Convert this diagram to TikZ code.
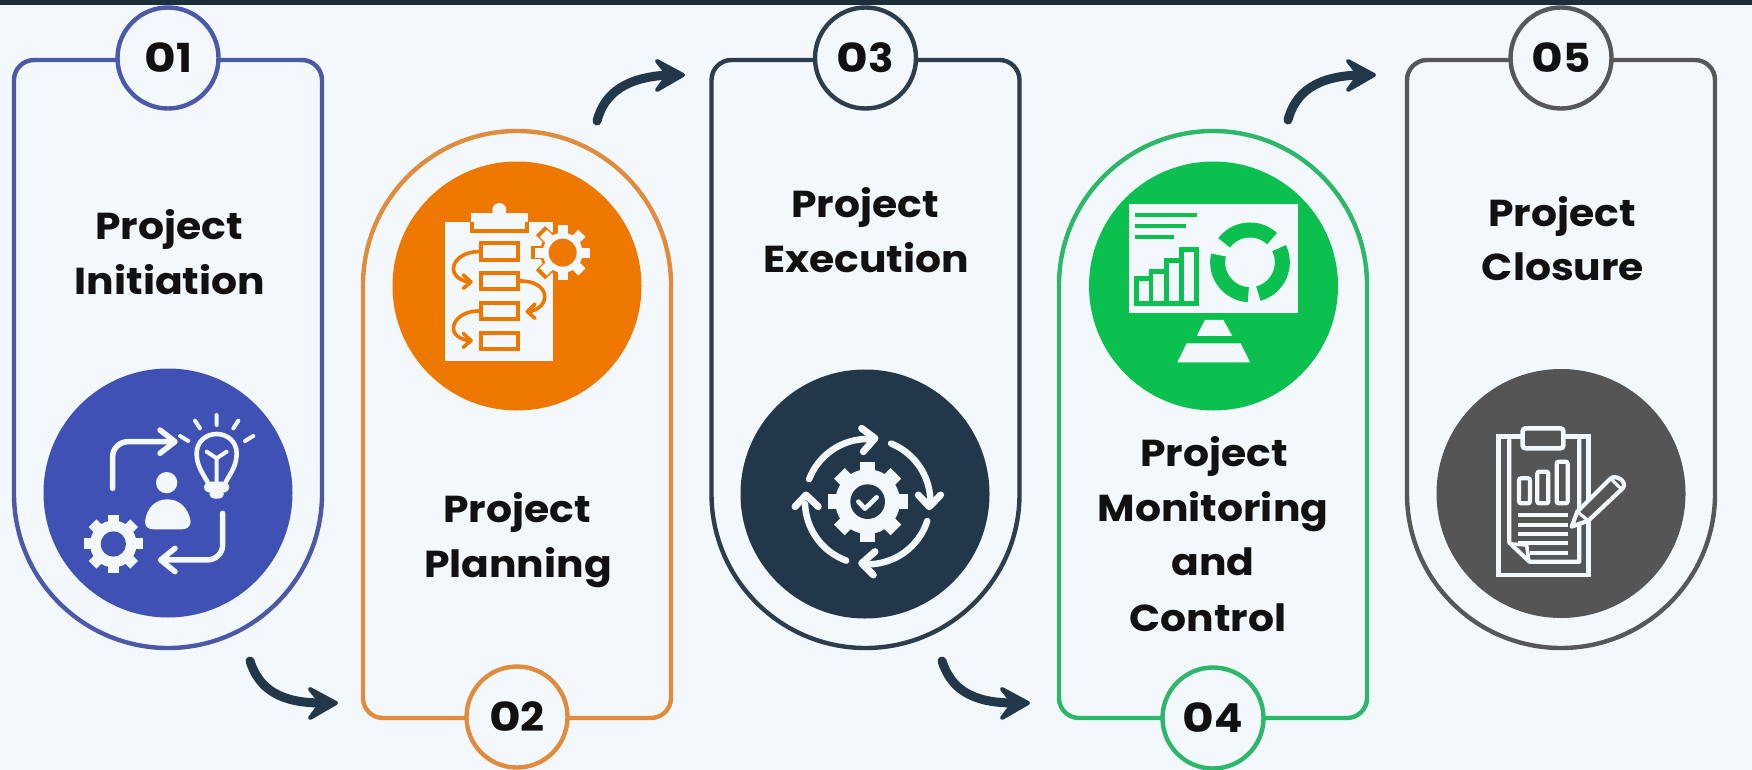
\documentclass[tikz,border=0pt]{standalone}
\usepackage{fontspec}
\setmainfont{Poppins}[BoldFont={* Bold},FakeStretch=1.09]
\newfontfamily\zerofont{Poppins}[BoldFont={* Bold},FakeStretch=1.22]
\newfontfamily\digitfont{Poppins}[BoldFont={* Bold},FakeStretch=1.05]
\usetikzlibrary{calc}
\definecolor{bgc}{HTML}{F3F8FD}
\definecolor{barc}{HTML}{1C2E3A}
\definecolor{bluef}{HTML}{3F51B5}
\definecolor{blues}{HTML}{4C58A8}
\definecolor{orangef}{HTML}{EE7700}
\definecolor{oranges}{HTML}{E08C3C}
\definecolor{darkf}{HTML}{22384A}
\definecolor{darks}{HTML}{2C3E4E}
\definecolor{greenf}{HTML}{0CC04F}
\definecolor{greens}{HTML}{2DB768}
\definecolor{greyf}{HTML}{555555}
\definecolor{greys}{HTML}{555759}
\definecolor{ink}{HTML}{111111}
\tikzset{
  panelline/.style={line width=4.4pt,line join=round},
  badge/.style={circle,minimum size=101pt,inner sep=0pt,line width=4.4pt,fill=bgc,text=ink,font=\fontsize{40}{40}\selectfont\bfseries},
  disc/.style={circle,minimum size=249pt,inner sep=0pt},
  label/.style={anchor=base,inner sep=0pt,text=ink,font=\fontsize{37.5}{37.5}\selectfont\bfseries},
  flowarrow/.style={draw=darkf,line width=9pt,line cap=round,line join=round},
  flowhead/.style={draw=darkf,fill=darkf,line width=4pt,line join=round},
  wl/.style={draw=bgc,line cap=round,line join=round},
}
\newcommand\zz{{\zerofont 0}}
% centre x, colour : square top, round bottom
\newcommand\panelA[2]{\draw[panelline,draw=#2]
  ({#1-154},80) .. controls ({#1-154},69) and ({#1-145},60) .. ({#1-134},60) -- ({#1+134},60)
  .. controls ({#1+145},60) and ({#1+154},69) .. ({#1+154},80) -- ({#1+154},494)
  .. controls ({#1+154},579) and ({#1+85},648) .. (#1,648)
  .. controls ({#1-85},648) and ({#1-154},579) .. ({#1-154},494) -- cycle;}
% centre x, colour : round top, square bottom
\newcommand\panelB[2]{\draw[panelline,draw=#2]
  ({#1-154},285) .. controls ({#1-154},200) and ({#1-85},131) .. (#1,131)
  .. controls ({#1+85},131) and ({#1+154},200) .. ({#1+154},285) -- ({#1+154},698)
  .. controls ({#1+154},709) and ({#1+145},718) .. ({#1+134},718) -- ({#1-134},718)
  .. controls ({#1-145},718) and ({#1-154},709) .. ({#1-154},698) -- cycle;}
% cx, cy, body r, tooth r, tooth width, rotation, colour
\newcommand\gearshape[7]{%
  \fill[#7] (#1,#2) circle[radius=#3];
  \foreach \ga in {0,45,...,315}{%
    \draw[#7,line width=#5pt] ({#1+(#3-6)*cos(\ga+#6)},{#2+(#3-6)*sin(\ga+#6)}) -- ({#1+#4*cos(\ga+#6)},{#2+#4*sin(\ga+#6)});
  }}
\newcommand\chev[4]{\draw[wl,line width=#4pt] #1 -- #2 -- #3;}
\newcommand\zarc[5]{plot[domain=#4:#5,samples=30] ({#1+#3*cos(\x)},{#2-#3*sin(\x)})}
% arrow head at named coordinate
\newcommand\headat[1]{\draw[flowhead] ($(#1)+(-26,-14)$) -- (#1) -- ($(#1)+(-26,15)$) -- ($(#1)+(-15,0)$) -- cycle;}
\begin{document}
\begin{tikzpicture}[x=1pt,y=-1pt]
\useasboundingbox (0,0) rectangle (1752,770);
\fill[bgc] (0,0) rectangle (1752,770);

\panelA{168}{blues}
\panelB{517}{oranges}
\panelA{865.5}{darks}
\panelB{1213}{greens}
\panelA{1561}{greys}

\node[disc,fill=bluef] (d1) at (168,493) {};
\node[disc,fill=orangef] (d2) at (517,286) {};
\node[disc,fill=darkf] (d3) at (865,494) {};
\node[disc,fill=greenf] (d4) at (1213.5,286) {};
\node[disc,fill=greyf] (d5) at (1561,493.5) {};

\node[badge,draw=blues] (b1) at (168,58) {\zz{\digitfont 1}};
\node[badge,draw=oranges] (b2) at (517,717) {\zz{\digitfont 2}};
\node[badge,draw=darks] (b3) at (865.5,58) {\zz{\digitfont 3}};
\node[badge,draw=greens] (b4) at (1213,718) {\zz{\digitfont 4}};
\node[badge,draw=greys] (b5) at (1561,58) {\zz{\digitfont 5}};

\node[label] (t1a) at (169,239) {Project};
\node[label] (t1b) at (170,294) {Initiation};
\node[label] (t2a) at (517,522) {Project};
\node[label] (t2b) at (518,577) {Planning};
\node[label] (t3a) at (865,217) {Project};
\node[label] (t3b) at (866,272) {Execution};
\node[label] (t4a) at (1214,466) {Project};
\node[label] (t4b) at (1213,521) {Monitoring};
\node[label] (t4c) at (1213,575) {and};
\node[label] (t4d) at (1208,631) {Control};
\node[label] (t5a) at (1562,226) {Project};
\node[label] (t5b) at (1563,280) {Closure};

% connectors
\coordinate (a1s) at (250,661); \coordinate (a1e) at (336,703);
\coordinate (a2s) at (597,121); \coordinate (a2e) at (683,75);
\coordinate (a3s) at (942,661); \coordinate (a3e) at (1028,703);
\coordinate (a4s) at (1288,120); \coordinate (a4e) at (1374,75);
\draw[flowarrow] (a1s) .. controls ($(a1s)+(9,28)$) and ($(a1s)+(30,42)$) .. ($(a1e)+(-14,0)$);
\headat{a1e}
\draw[flowarrow] (a2s) .. controls ($(a2s)+(7,-27)$) and ($(a2s)+(28,-44)$) .. ($(a2e)+(-14,0)$);
\headat{a2e}
\draw[flowarrow] (a3s) .. controls ($(a3s)+(9,28)$) and ($(a3s)+(30,42)$) .. ($(a3e)+(-14,0)$);
\headat{a3e}
\draw[flowarrow] (a4s) .. controls ($(a4s)+(7,-27)$) and ($(a4s)+(28,-44)$) .. ($(a4e)+(-14,0)$);
\headat{a4e}

% icon 1
\begin{scope}[shift={(0,340)},x=0.3333pt,y=-0.3333pt]
  \draw[wl,line width=5.5pt] (338,445) -- (338,350) .. controls (338,325) and (358,305) .. (385,305) -- (515,305);
  \chev{(480,270)}{(525,305)}{(480,340)}{5.5}
  \draw[wl,line width=5.5pt] (668,520) -- (668,615) .. controls (668,640) and (648,660) .. (620,660) -- (490,660);
  \chev{(525,625)}{(482,660)}{(525,695)}{5.5}
  \fill[bgc] (500,428) circle[radius=32];
  \fill[bgc] (435,545) .. controls (440,500) and (470,478) .. (502,478) .. controls (535,478) and (565,500) .. (572,545)
     .. controls (572,560) and (560,568) .. (545,568) -- (460,568) .. controls (445,568) and (435,560) .. (435,545) -- cycle;
  \gearshape{340}{612}{70}{88}{11}{0}{bgc}
  \fill[bluef] (340,612) circle[radius=38];
  \draw[wl,line width=4.6pt] (622,425) .. controls (605,395) and (590,375) .. (590,340) .. controls (590,305) and (618,282) .. (650,282)
     .. controls (682,282) and (710,305) .. (710,340) .. controls (710,375) and (695,395) .. (678,425);
  \fill[bgc,rounded corners=6pt] (612,425) rectangle (688,458);
  \fill[bgc,rounded corners=5pt] (628,450) rectangle (672,476);
  \draw[wl,line width=4pt] (620,335) -- (650,355) -- (680,335) (650,355) -- (650,425);
  \draw[wl,line width=4pt] (540,288) -- (565,303) (585,242) -- (600,265) (650,225) -- (650,255) (715,242) -- (700,265) (760,288) -- (735,303);
\end{scope}

% icon 2
\begin{scope}[shift={(370,130)},x=0.3333pt,y=-0.3333pt]
  \fill[bgc] (225,275) rectangle (550,693);
  \draw[draw=orangef,fill=bgc,line width=3.8pt] (307,255) rectangle (470,303);
  \fill[bgc] (303,250) rectangle (474,275);
  \fill[bgc] (388,240) circle[radius=21];
  \gearshape{578}{368}{68}{94}{13}{0}{orangef}
  \gearshape{578}{368}{60}{82}{10}{0}{bgc}
  \fill[orangef] (578,368) circle[radius=42];
  \foreach \yy in {340,428,518,608}{
    \draw[orangef,fill=bgc,line width=4pt] (332,\yy) rectangle (445,{\yy+50});
  }
  \begin{scope}[every path/.style={draw=orangef,line width=3.6pt,line join=round,line cap=round}]
    \path (330,365) .. controls (250,362) and (215,440) .. (298,457);
    \path (280,435) -- (303,456) -- (280,475);
    \path (445,453) .. controls (545,450) and (545,535) .. (475,545);
    \path (495,522) -- (472,545) -- (495,565);
    \path (330,543) .. controls (250,540) and (215,620) .. (298,632);
    \path (280,610) -- (303,632) -- (280,652);
  \end{scope}
\end{scope}

% icon 3
\begin{scope}[shift={(720,350)},x=0.3333pt,y=-0.3333pt]
  \gearshape{443}{455}{97}{120}{15}{0}{bgc}
  \fill[darkf] (443,455) circle[radius=52];
  \draw[wl,line width=4.6pt] (415,455) -- (435,476) -- (470,442);
  \draw[wl,line width=6.5pt] \zarc{443}{455}{188}{159}{88};
  \chev{(425,235)}{(465,265)}{(430,305)}{7}
  \draw[wl,line width=6.5pt] \zarc{443}{455}{188}{68}{-2};
  \chev{(595,435)}{(628,470)}{(662,435)}{7}
  \draw[wl,line width=6.5pt] \zarc{443}{455}{188}{-18}{-92};
  \chev{(465,605)}{(425,640)}{(460,675)}{7}
  \draw[wl,line width=6.5pt] \zarc{443}{455}{188}{-110}{-178};
  \chev{(225,470)}{(258,435)}{(295,470)}{7}
\end{scope}

% icon 4
\begin{scope}[shift={(1070,130)},x=0.3333pt,y=-0.3333pt]
  \fill[bgc] (178,222) rectangle (685,550);
  \draw[greenf,line width=4.8pt] (195,255) -- (382,255) (195,288) -- (347,288) (195,321) -- (312,321);
  \begin{scope}[line width=4.4pt]
    \draw[greenf] (200,445) rectangle (243,520);
    \draw[greenf] (243,425) rectangle (290,520);
    \draw[greenf] (290,392) rectangle (335,520);
    \draw[greenf] (335,358) rectangle (380,520);
  \end{scope}
  \draw[greenf,line width=15pt] \zarc{540}{397}{97}{143}{47};
  \draw[greenf,line width=15pt] \zarc{540}{397}{97}{26}{-75};
  \draw[greenf,line width=15pt] \zarc{540}{397}{97}{167}{267};
  \fill[bgc] (405,570) -- (460,570) -- (487,618) -- (380,618) -- cycle;
  \fill[bgc] (350,640) -- (512,640) -- (540,697) -- (322,697) -- cycle;
\end{scope}

% icon 5
\begin{scope}[shift={(1420,360)},x=0.3333pt,y=-0.3333pt]
  \draw[draw=bgc,line width=4.6pt] (235,230) rectangle (505,645);
  \draw[wl,line width=4.2pt] (268,240) -- (268,548) -- (328,605) -- (478,605) -- (478,240);
  \draw[wl,line width=3.6pt] (275,552) -- (320,555) -- (326,600);
  \draw[draw=bgc,fill=greyf,line width=4.6pt,rounded corners=3pt] (308,205) rectangle (430,265);
  \draw[draw=bgc,line width=4.2pt,rounded corners=2pt] (297,355) rectangle (330,430);
  \draw[draw=bgc,line width=4.2pt,rounded corners=2pt] (352,335) rectangle (385,430);
  \draw[draw=bgc,line width=4.2pt,rounded corners=2pt] (410,305) rectangle (443,430);
  \draw[draw=bgc,line width=4pt] (295,465) -- (445,465) (295,495) -- (445,495) (295,522) -- (445,522) (295,550) -- (445,550) (330,578) -- (445,578);
  \draw[wl,fill=greyf,line width=4.2pt] (455,500) -- (472,455) -- (570,357) .. controls (585,340) and (625,365) .. (608,385) -- (505,482) -- cycle;
  \draw[wl,line width=3.2pt] (472,455) -- (505,482);
  \draw[wl,line width=3.2pt] (573,357) -- (605,388);
\end{scope}

\fill[barc] (0,0) rectangle (1752,5.5);
\end{tikzpicture}
\end{document}
